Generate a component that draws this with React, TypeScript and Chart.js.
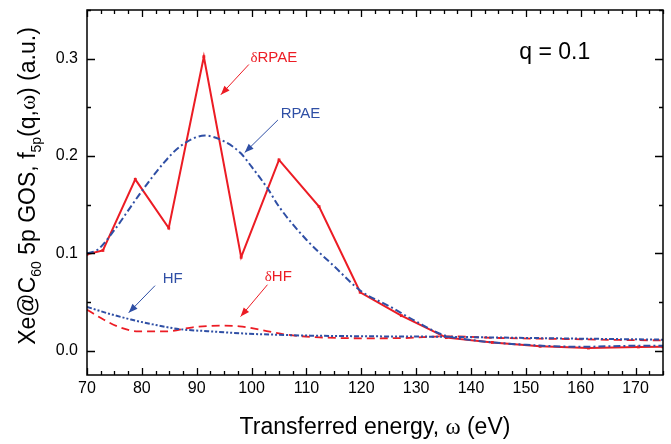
import React, { useEffect, useRef } from "react";
import { Chart, registerables } from "chart.js";
Chart.register(...registerables);

// ---- data ----
const drpaeX = [70, 72.9, 78.8, 84.9, 91.3, 98.1, 105.0, 112.3, 119.8, 127.3, 135.5, 143.9, 152.6, 161.4, 170.5, 175];
const drpaeY = [0.099, 0.103, 0.176, 0.126, 0.302, 0.096, 0.196, 0.148, 0.060, 0.036, 0.0134, 0.0085, 0.0045, 0.0027, 0.0038, 0.004];

const rpaeX = [70, 72, 75, 78, 80, 84, 87, 91.5, 95, 98, 100, 103, 105, 110, 115, 120, 125, 130, 135, 140, 150, 160, 170, 175];
const rpaeY = [0.100, 0.104, 0.124, 0.148, 0.164, 0.193, 0.210, 0.221, 0.215, 0.203, 0.189, 0.166, 0.148, 0.114, 0.087, 0.061, 0.046, 0.030, 0.016, 0.011, 0.006, 0.004, 0.005, 0.005];

const hfX = [70, 74, 78, 82, 87, 92, 99, 105, 111, 117, 123, 130, 135, 145, 155, 165, 175];
const hfY = [0.045, 0.038, 0.032, 0.027, 0.022, 0.020, 0.0175, 0.0163, 0.0154, 0.0150, 0.0147, 0.0145, 0.0143, 0.0135, 0.0127, 0.012, 0.0113];

const dhfX = [70, 73, 76, 79.3, 84.5, 89.3, 94.2, 97.8, 102.1, 106.3, 112.4, 120.9, 128, 135.5, 145.2, 157.3, 167, 175];
const dhfY = [0.042, 0.032, 0.024, 0.0198, 0.0198, 0.024, 0.0257, 0.025, 0.021, 0.0165, 0.0137, 0.0127, 0.013, 0.0147, 0.013, 0.012, 0.011, 0.0106];

const xTickValues = [70, 80, 90, 100, 110, 120, 130, 140, 150, 160, 170];
const yTickValues = [0.0, 0.1, 0.2, 0.3];

const X_MIN = 70, X_MAX = 175, Y_MIN = -0.025, Y_MAX = 0.35;

const RED = "#ec1c24";
const BLUE = "#2f4fa5";
const SANS = "'Liberation Sans', Arial, sans-serif";
const SERIF = "'Liberation Serif', 'Times New Roman', serif";

// annotations: label (data coords of left/middle) + arrow (from -> to)
const annotations = [
  { prefix: "δ", text: "RPAE", color: RED, x: 99.8, y: 0.301, ax0: 99.5, ay0: 0.294, ax1: 94.4, ay1: 0.263 },
  { prefix: "", text: "RPAE", color: BLUE, x: 105.3, y: 0.2436, ax0: 104.8, ay0: 0.237, ax1: 98.75, ay1: 0.2035 },
  { prefix: "", text: "HF", color: BLUE, x: 83.8, y: 0.074, ax0: 82.4, ay0: 0.0668, ax1: 77.6, ay1: 0.039 },
  { prefix: "δ", text: "HF", color: RED, x: 102.4, y: 0.076, ax0: 102.9, ay0: 0.0678, ax1: 98.0, ay1: 0.035 },
];

const pts = (xs: number[], ys: number[]) => xs.map((x, i) => ({ x, y: ys[i] }));

const decorPlugin = {
  id: "decor",
  afterDraw(chart: any) {
    const { ctx, chartArea, scales } = chart;
    const { left, right, top, bottom } = chartArea;
    const xs = scales.x, ys = scales.y;
    ctx.save();
    // frame
    ctx.strokeStyle = "#000";
    ctx.lineWidth = 1.5;
    ctx.strokeRect(left, top, right - left, bottom - top);
    ctx.lineWidth = 1.3;
    ctx.beginPath();
    for (let i = 0; ; i++) {
      const v = X_MIN + i * 2.5;
      if (v > X_MAX + 1e-9) break;
      const px = Math.round(xs.getPixelForValue(v)) + 0.5;
      const major = Math.abs(v / 10 - Math.round(v / 10)) < 1e-6;
      const len = major ? 7 : 4;
      ctx.moveTo(px, bottom);
      ctx.lineTo(px, bottom - len);
      ctx.moveTo(px, top);
      ctx.lineTo(px, top + len);
    }
    for (let i = 0; ; i++) {
      const v = i * 0.05;
      if (v > Y_MAX + 1e-9) break;
      const py = Math.round(ys.getPixelForValue(v)) + 0.5;
      const major = i % 2 === 0;
      const len = major ? 8 : 4;
      ctx.moveTo(left, py);
      ctx.lineTo(left + len, py);
      ctx.moveTo(right, py);
      ctx.lineTo(right - len, py);
    }
    ctx.stroke();

    // annotations
    for (const a of annotations) {
      ctx.fillStyle = a.color;
      ctx.strokeStyle = a.color;
      ctx.textBaseline = "middle";
      ctx.textAlign = "left";
      let tx = xs.getPixelForValue(a.x);
      const ty = ys.getPixelForValue(a.y);
      if (a.prefix) {
        ctx.font = `15px ${SERIF}`;
        ctx.fillText(a.prefix, tx, ty);
        tx += ctx.measureText(a.prefix).width;
      }
      ctx.font = `15px ${SANS}`;
      ctx.fillText(a.text, tx, ty);
      const x0 = xs.getPixelForValue(a.ax0), y0 = ys.getPixelForValue(a.ay0);
      const x1 = xs.getPixelForValue(a.ax1), y1 = ys.getPixelForValue(a.ay1);
      ctx.lineWidth = 1;
      ctx.beginPath();
      ctx.moveTo(x0, y0);
      ctx.lineTo(x1, y1);
      ctx.stroke();
      const ang = Math.atan2(y1 - y0, x1 - x0);
      const hl = 9, hw = 3.5;
      ctx.beginPath();
      ctx.moveTo(x1, y1);
      ctx.lineTo(x1 - hl * Math.cos(ang) + hw * Math.sin(ang), y1 - hl * Math.sin(ang) - hw * Math.cos(ang));
      ctx.lineTo(x1 - hl * Math.cos(ang) - hw * Math.sin(ang), y1 - hl * Math.sin(ang) + hw * Math.cos(ang));
      ctx.closePath();
      ctx.fill();
    }

    // q label
    ctx.fillStyle = "#000";
    ctx.font = `23px ${SANS}`;
    ctx.textAlign = "left";
    ctx.textBaseline = "middle";
    ctx.fillText("q = 0.1", xs.getPixelForValue(148.8), ys.getPixelForValue(0.306));

    // x title
    const xParts = [
      { t: "Transferred energy, ", f: `23px ${SANS}` },
      { t: "ω", f: `23px ${SERIF}` },
      { t: " (eV)", f: `23px ${SANS}` },
    ];
    let total = 0;
    for (const p of xParts) { ctx.font = p.f; total += ctx.measureText(p.t).width; }
    let cx = (left + right) / 2 - total / 2;
    ctx.textAlign = "left";
    ctx.textBaseline = "middle";
    for (const p of xParts) { ctx.font = p.f; ctx.fillText(p.t, cx, 428); cx += ctx.measureText(p.t).width; }

    // y title (rotated, with subscripts)
    const yParts = [
      { t: "Xe@C", f: `23px ${SANS}`, dy: 0 },
      { t: "60", f: `14px ${SANS}`, dy: 6 },
      { t: " 5p GOS, f", f: `23px ${SANS}`, dy: 0 },
      { t: "5p", f: `14px ${SANS}`, dy: 6 },
      { t: "(q,", f: `23px ${SANS}`, dy: 0 },
      { t: "ω", f: `23px ${SERIF}`, dy: 0 },
      { t: ") (a.u.)", f: `23px ${SANS}`, dy: 0 },
    ];
    ctx.translate(27, 186);
    ctx.rotate(-Math.PI / 2);
    total = 0;
    for (const p of yParts) { ctx.font = p.f; total += ctx.measureText(p.t).width; }
    cx = -total / 2;
    ctx.textBaseline = "alphabetic";
    for (const p of yParts) { ctx.font = p.f; ctx.fillText(p.t, cx, 8 + p.dy); cx += ctx.measureText(p.t).width; }
    ctx.restore();
  },
};

export default function App() {
  const ref = useRef<HTMLCanvasElement | null>(null);
  useEffect(() => {
    if (!ref.current) return;
    const chart = new Chart(ref.current, {
      type: "line",
      data: {
        datasets: [
          {
            label: "RPAE",
            data: pts(rpaeX, rpaeY),
            borderColor: BLUE,
            borderWidth: 2,
            borderDash: [7, 3, 2, 3],
            pointRadius: 0,
            cubicInterpolationMode: "monotone",
            fill: false,
          },
          {
            label: "HF",
            data: pts(hfX, hfY),
            borderColor: BLUE,
            borderWidth: 2,
            borderDash: [5, 2, 2, 2, 2, 2],
            pointRadius: 0,
            cubicInterpolationMode: "monotone",
            fill: false,
          },
          {
            label: "δRPAE",
            data: pts(drpaeX, drpaeY),
            borderColor: RED,
            backgroundColor: RED,
            borderWidth: 2,
            pointRadius: 2,
            pointStyle: "rect",
            pointBorderWidth: 0,
            tension: 0,
            fill: false,
          },
          {
            label: "δHF",
            data: pts(dhfX, dhfY),
            borderColor: RED,
            borderWidth: 1.8,
            borderDash: [8, 5],
            pointRadius: 0,
            cubicInterpolationMode: "monotone",
            fill: false,
          },
        ],
      },
      options: {
        animation: false,
        responsive: false,
        devicePixelRatio: 1,
        layout: { padding: { top: 10, right: 8, left: 0, bottom: 0 } },
        plugins: { legend: { display: false }, tooltip: { enabled: false }, title: { display: false } },
        scales: {
          x: {
            type: "linear",
            min: X_MIN,
            max: X_MAX,
            grid: { display: false, drawTicks: false },
            border: { display: false },
            ticks: {
              color: "#000",
              font: { family: SANS, size: 16 },
              padding: 4,
              maxRotation: 0,
              autoSkip: false,
              callback: (v: any) => String(v),
            },
            afterBuildTicks: (s: any) => { s.ticks = xTickValues.map((v) => ({ value: v })); },
            afterFit: (s: any) => { s.height = 69; s.paddingLeft = 0; s.paddingRight = 0; },
          },
          y: {
            type: "linear",
            min: Y_MIN,
            max: Y_MAX,
            grid: { display: false, drawTicks: false },
            border: { display: false },
            ticks: {
              color: "#000",
              font: { family: SANS, size: 16 },
              padding: 9,
              autoSkip: false,
              callback: (v: any) => Number(v).toFixed(1),
            },
            afterBuildTicks: (s: any) => { s.ticks = yTickValues.map((v) => ({ value: v })); },
            afterFit: (s: any) => { s.width = 87; s.paddingTop = 0; s.paddingBottom = 0; },
          },
        },
      },
      plugins: [decorPlugin],
    } as any);
    return () => chart.destroy();
  }, []);
  return (
    <div style={{ position: "fixed", left: 0, top: 0, width: 671, height: 444, background: "#fff" }}>
      <canvas ref={ref} width={671} height={444} style={{ width: 671, height: 444, display: "block" }} />
    </div>
  );
}
